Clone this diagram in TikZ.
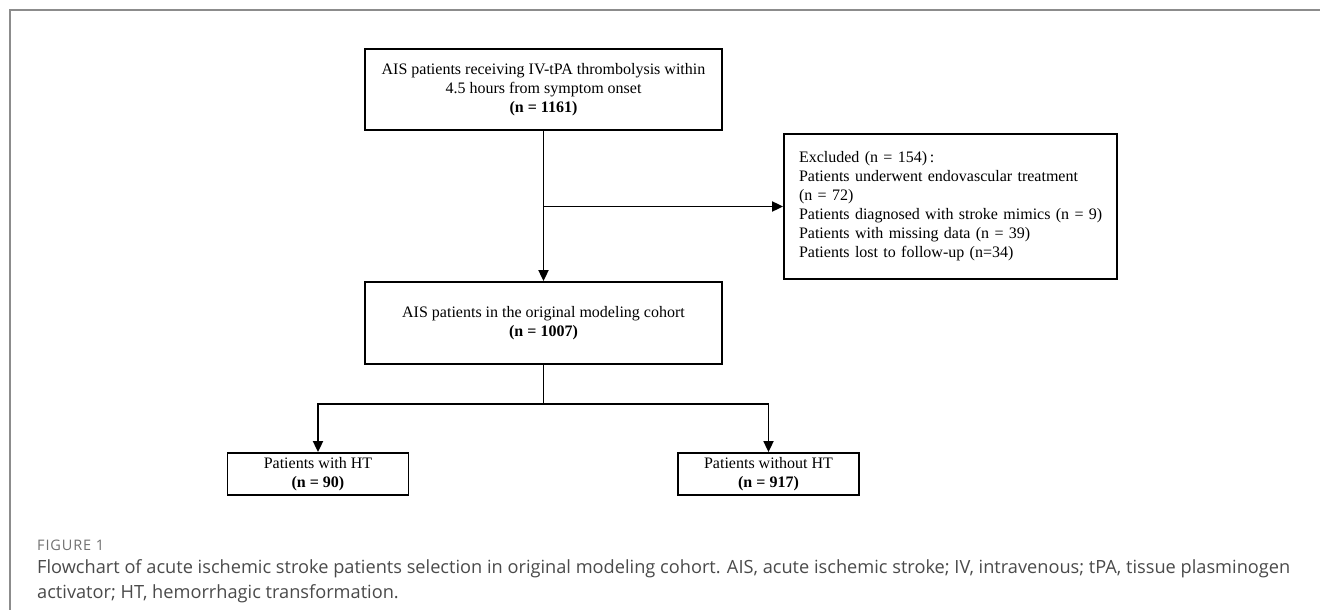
\documentclass[tikz,border=0pt]{standalone}
\usepackage{fontspec}
\setmainfont{Liberation Serif}
\newfontfamily\capfont{Open Sans}
\newfontfamily\capheadfont[LetterSpace=6]{Open Sans}
\usetikzlibrary{arrows.meta}
\definecolor{framegray}{HTML}{8C8C8C}
\definecolor{captext}{HTML}{4A4A4A}
\definecolor{caphead}{HTML}{707070}
\tikzset{
  box/.style={draw=black, line width=1.8pt, align=center, inner sep=0pt, font=\fontsize{16}{19}\selectfont},
  conn/.style={line width=1.8pt, draw=black},
  arr/.style={conn, -{Triangle[length=11pt, width=10pt]}},
}
\begin{document}
\begin{tikzpicture}[x=1pt, y=-1pt]
\useasboundingbox (0,0) rectangle (1320,610);
% frame
\draw[framegray, line width=2pt] (1320,10) -- (9.5,10) -- (9.5,610);

\node[box, minimum width=357pt, minimum height=81pt] (top) at (543.5,89.5)
  {AIS patients receiving IV-tPA thrombolysis within\\4.5 hours from symptom onset\\\textbf{(n = 1161)}};
\node[box, minimum width=333pt, minimum height=145pt, text width=303pt, align=left] (excl) at (950.5,206.5)
  {\mbox{Excluded (n = 154)\,:}\\\mbox{Patients underwent endovascular treatment}\\\mbox{(n = 72)}\\\mbox{Patients diagnosed with stroke mimics (n = 9)}\\\mbox{Patients with missing data (n = 39)}\\\mbox{Patients lost to follow-up (n=34)}};
\node[box, minimum width=357pt, minimum height=82pt] (mid) at (543.5,323)
  {AIS patients in the original modeling cohort\\\textbf{(n = 1007)}};
\node[box, minimum width=181pt, minimum height=42pt] (lb) at (318,474)
  {Patients with HT\\\textbf{(n = 90)}};
\node[box, minimum width=181pt, minimum height=42pt] (rb) at (768.5,474)
  {Patients without HT\\\textbf{(n = 917)}};

\coordinate (j) at (top.south |- excl.west);
\coordinate (b) at (543.5,404);
\draw[arr] (top.south) -- (mid.north);
\draw[arr] (j) -- (excl.west);
\draw[conn] (mid.south) -- (b);
\draw[arr] (b) -| (lb.north);
\draw[arr] (b) -| (rb.north);

\node[anchor=base west, inner sep=0pt, text=caphead, font=\capheadfont\fontsize{14.5}{16}\selectfont] (fig) at (37,550) {FIGURE 1};
\node[anchor=base west, inner sep=0pt, align=left, text=captext, font=\capfont\fontsize{18.2}{25}\selectfont] (cap) at (37,598)
  {Flowchart of acute ischemic stroke patients selection in original modeling cohort. AIS, acute ischemic stroke; IV, intravenous; tPA, tissue plasminogen\\activator; HT, hemorrhagic transformation.};
\end{tikzpicture}
\end{document}
